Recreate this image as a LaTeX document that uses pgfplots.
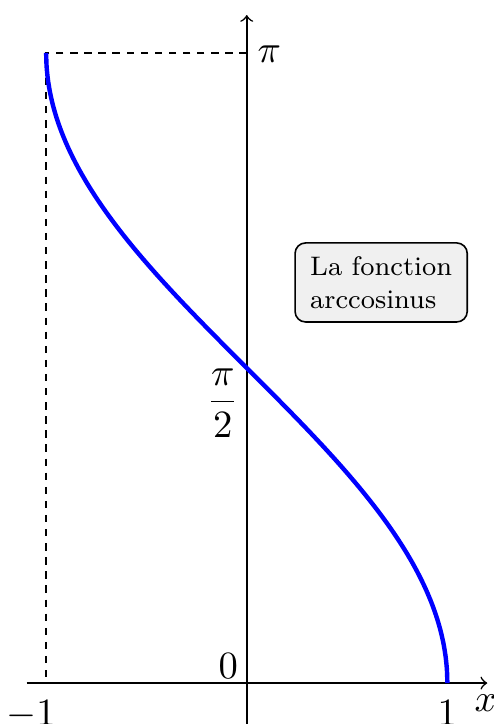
\documentclass[border=0pt]{standalone}
\usepackage{pgfplots}
\pgfplotsset{compat=1.18}

% arccos sampled at t = k*pi/48 : (cos t, t)
\pgfplotstableread{
x t
1.000000 0.000000
0.997859 0.065450
0.991445 0.130900
0.980785 0.196350
0.965926 0.261799
0.946930 0.327249
0.923880 0.392699
0.896873 0.458149
0.866025 0.523599
0.831470 0.589049
0.793353 0.654498
0.751840 0.719948
0.707107 0.785398
0.659346 0.850848
0.608761 0.916298
0.555570 0.981748
0.500000 1.047198
0.442289 1.112647
0.382683 1.178097
0.321439 1.243547
0.258819 1.308997
0.195090 1.374447
0.130526 1.439897
0.065403 1.505346
0.000000 1.570796
-0.065403 1.636246
-0.130526 1.701696
-0.195090 1.767146
-0.258819 1.832596
-0.321439 1.898046
-0.382683 1.963495
-0.442289 2.028945
-0.500000 2.094395
-0.555570 2.159845
-0.608761 2.225295
-0.659346 2.290745
-0.707107 2.356194
-0.751840 2.421644
-0.793353 2.487094
-0.831470 2.552544
-0.866025 2.617994
-0.896873 2.683444
-0.923880 2.748894
-0.946930 2.814343
-0.965926 2.879793
-0.980785 2.945243
-0.991445 3.010693
-0.997859 3.076143
-1.000000 3.141593
}\arccosdata

\begin{document}
\begin{tikzpicture}
\begin{axis}[
  x=2cm, y=2cm,
  axis lines=middle,
  axis line style={->, line width=0.45pt},
  xmin=-1.097, xmax=1.199,
  ymin=-0.3, ymax=3.33,
  xtick=\empty, ytick=\empty,
  clip=false,
]
  % guide lines to the point (-1, pi)
  \addplot[black, line width=0.45pt, dash pattern=on 2.1pt off 1.9pt]
    coordinates {(0,3.141593) (-1,3.141593) (-1,0)};
  % the curve
  \addplot[blue, line width=1.25pt, smooth] table[x=x, y=t] {\arccosdata};

  % labels
  \node[anchor=base east, inner sep=0pt, font=\fontsize{11}{13}\selectfont,
        xshift=-2.3pt, yshift=1.4pt] at (axis cs:0,0) {$0$};
  \node[anchor=base west, inner sep=0pt, font=\fontsize{11}{13}\selectfont,
        xshift=2.9pt, yshift=-2.8pt] at (axis cs:0,3.141593) {$\pi$};
  \node[anchor=north east, inner sep=0pt, font=\fontsize{11}{13}\selectfont,
        xshift=-2.1pt] at (axis cs:0,1.570796) {$\displaystyle\frac{\pi}{2}$};
  \node[anchor=north, inner sep=0pt, font=\fontsize{11}{13}\selectfont,
        yshift=-4.7pt] at (axis cs:-1,0) {$\llap{$-$}1$};
  \node[anchor=north, inner sep=0pt, font=\fontsize{11}{13}\selectfont,
        yshift=-4.7pt] at (axis cs:1,0) {$1$};
  \node[anchor=base west, inner sep=0pt, font=\fontsize{10.5}{12}\selectfont,
        xshift=-0.3pt, yshift=-8.1pt] at (axis cs:1.138,0) {$x$};

  \node[draw=black, line width=0.45pt, fill=black!6, rounded corners=3pt,
        align=left, inner xsep=4.3pt, inner ysep=3.8pt,
        font=\fontsize{7.6}{9.4}\selectfont]
        at (axis cs:0.670,1.997) {La fonction\\arccosinus};

  \coordinate (bbsw) at (axis cs:-1.230,-0.204);
  \coordinate (bbne) at (axis cs:1.228,3.405);
\end{axis}
\pgfresetboundingbox
\path[use as bounding box] (bbsw) rectangle (bbne);
\end{tikzpicture}
\end{document}
